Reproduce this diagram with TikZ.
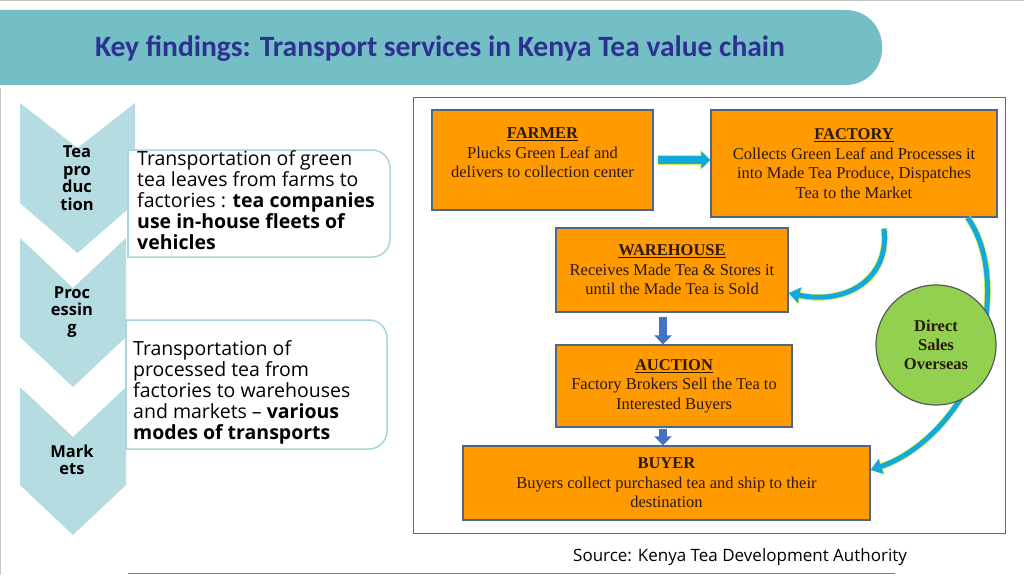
\documentclass[tikz,border=0pt]{standalone}
\usepackage{fontspec}
\setmainfont{Open Sans}
\newfontfamily\titlefont{Carlito}
\newfontfamily\boxfont{Liberation Serif}
\usetikzlibrary{arrows.meta}
\definecolor{bandteal}{HTML}{74BFC6}
\definecolor{titleblue}{HTML}{2E3192}
\definecolor{chevfill}{HTML}{B4DCE1}
\definecolor{infoedge}{HTML}{A8D5DB}
\definecolor{boxorange}{HTML}{FF9A00}
\definecolor{boxedge}{HTML}{4E6688}
\definecolor{boxtext}{HTML}{2B1800}
\definecolor{salesgreen}{HTML}{92D050}
\definecolor{flowcyan}{HTML}{14A9DC}
\definecolor{flowrim}{HTML}{D9EE4C}
\definecolor{blockblue}{HTML}{4472C4}

\begin{document}
\begin{tikzpicture}[x=1pt, y=-1pt,
  stagebox/.style={draw=boxedge, fill=boxorange, line width=1.2pt, inner sep=0pt,
    align=center, text=boxtext, font=\boxfont\fontsize{16.5}{19.5}\selectfont},
  chevlabel/.style={align=center, inner sep=0pt, font=\bfseries\fontsize{16.5}{17.5}\selectfont},
  infotext/.style={anchor=west, align=left, inner sep=0pt, font=\fontsize{19.5}{21}\selectfont},
  leafarrow/.style={draw=flowcyan, line width=8pt, -{Triangle[width=17pt,length=9pt]},
    preaction={draw=flowrim, line width=9.5pt, -{Triangle[width=19pt,length=10pt]}}},
  flowarrow/.style={draw=flowcyan, line width=5pt, -{Triangle[width=15pt,length=11pt]},
    preaction={draw=flowrim, line width=6.5pt, -{Triangle[width=17pt,length=12pt]}}},
  downarrow/.style={draw=blockblue, line width=8pt, -{Triangle[width=17pt,length=9pt]}}]
  \useasboundingbox (0,0) rectangle (1024,575);
  \draw[gray!45] (0,0.5) -- (1024,0.5);
  \draw[gray!45] (0.5,88) -- (0.5,575);

  % title band
  \fill[bandteal, rounded corners=36pt] (0,10) -- (882,10) -- (882,85) -- (0,85);
  \node[font=\titlefont\bfseries\fontsize{29.5}{34}\selectfont, text=titleblue] (title) at (440,49)
    {Key findings: Transport services in Kenya Tea value chain};

  % chevrons
  \fill[chevfill] (20,103) -- (77.5,148) -- (135,103) -- (135,203) -- (77.5,253) -- (20,203) -- cycle;
  \fill[chevfill] (20,238) -- (73,288) -- (126,238) -- (126,337) -- (73,387) -- (20,337) -- cycle;
  \fill[chevfill] (20,387) -- (73,437) -- (126,387) -- (126,485) -- (73,535) -- (20,485) -- cycle;
  \node[chevlabel] (teaprod) at (77,178) {Tea\\pro\\duc\\tion};
  \node[chevlabel] (processing) at (72,312) {Proc\\essin\\g};
  \node[chevlabel] (markets) at (72,460) {Mark\\ets};

  % info boxes
  \path[fill=white, draw=infoedge, line width=1.5pt, rounded corners=18pt]
    (128,150) -- (390,150) -- (390,257) -- (128,257);
  \draw[infoedge, line width=1.5pt, line cap=rect] (128,150) -- (128,257);
  \path[fill=white, draw=infoedge, line width=1.5pt, rounded corners=18pt]
    (126,320) -- (387,320) -- (387,449) -- (126,449);
  \draw[infoedge, line width=1.5pt, line cap=rect] (126,320) -- (126,449);
  \node[infotext] (leaftext) at (137,200.5) {Transportation of green\\ tea leaves from farms to\\
    factories : \textbf{tea companies}\\ \textbf{use in-house fleets of}\\ \textbf{vehicles}};
  \node[infotext] (madetext) at (133,392) {Transportation of\\ processed tea from\\
    factories to warehouses\\ and markets -- \textbf{various}\\ \textbf{modes of transports}};

  % value chain
  \draw[gray!80!black, line width=1pt] (413,98) rectangle (1005,533);
  \node[stagebox, minimum width=221pt, minimum height=100pt] (farmer) at (542.5,160)
    {\textbf{\underline{FARMER}}\\ Plucks Green Leaf and\\ delivers to collection center\\[-5pt] \mbox{}};
  \node[stagebox, minimum width=286pt, minimum height=107pt] (factory) at (854,163.5)
    {\textbf{\underline{FACTORY}}\\ Collects Green Leaf and Processes it\\ into Made Tea Produce, Dispatches\\ Tea to the Market};
  \node[stagebox, minimum width=232pt, minimum height=84pt] (warehouse) at (672,270)
    {\textbf{\underline{WAREHOUSE}}\\ Receives Made Tea \& Stores it\\ until the Made Tea is Sold};
  \node[stagebox, minimum width=236pt, minimum height=82pt] (auction) at (674,386)
    {\textbf{\underline{AUCTION}}\\ Factory Brokers Sell the Tea to\\ Interested Buyers};
  \node[stagebox, minimum width=407pt, minimum height=74pt] (buyer) at (666.5,483)
    {\textbf{BUYER}\\ Buyers collect purchased tea and ship to their\\ destination};

  \draw[leafarrow] ([xshift=4pt]farmer.east) -- (factory.west |- farmer.east);
  \draw[flowarrow] ([xshift=30pt,yshift=-11pt]factory.south) .. controls (890,280) and (845,305)
    .. ([yshift=-23pt]warehouse.east);
  \draw[flowarrow] ([xshift=-30pt]factory.south east) .. controls (990,250) and (995,300) .. (975,370)
    .. controls (955,420) and (915,455) .. ([yshift=13pt]buyer.east);
  \draw[downarrow] ([xshift=-9pt,yshift=-4pt]warehouse.south) -- ([xshift=-11pt]auction.north);
  \draw[downarrow] ([xshift=-11pt,yshift=-1pt]auction.south) -- ([xshift=-3.5pt]buyer.north);

  \node[circle, draw=gray!70!black, fill=salesgreen, line width=1.2pt, minimum size=120pt,
    inner sep=0pt, align=center, text=boxtext,
    font=\boxfont\bfseries\fontsize{16.5}{19}\selectfont] (direct) at (936,345) {Direct\\Sales\\Overseas};

  % source
  \node[anchor=west, inner sep=0pt, font=\fontsize{17}{20}\selectfont] (source) at (573,557)
    {Source: Kenya Tea Development Authority};
  \draw[gray, line width=1pt] (128,573.5) -- (895,573.5);
\end{tikzpicture}
\end{document}
